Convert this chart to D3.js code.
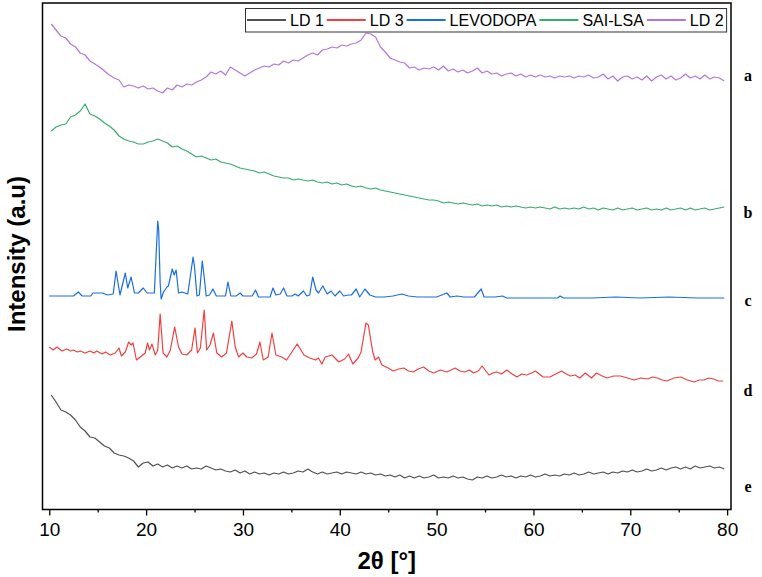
<!DOCTYPE html>
<html><head><meta charset="utf-8">
<script src="https://cdn.jsdelivr.net/npm/d3@7"></script>
<style>body{margin:0;background:#fff} svg{display:block}</style>
</head><body>
<svg id="chart" width="762" height="577"></svg>
<script>
// ---------- data ----------
const seriesNames = ["LD 1", "LD 3", "LEVODOPA", "SAI-LSA", "LD 2"];
const seriesColors = ["#515151", "#F14040", "#1A6FDF", "#37AD6B", "#B177DE"];
const curveLabels = ["a", "b", "c", "d", "e"];          // LD 2, SAI-LSA, LEVODOPA, LD 3, LD 1
const curveLabelLevels = [435, 298, 210, 120, 24];     // intensity (a.u.) at which each letter sits
const xTicks = [10, 20, 30, 40, 50, 60, 70, 80];
const xMinorTicks = [15, 25, 35, 45, 55, 65, 75];

// uniformly sampled patterns: 2θ = 10.2 + 0.5·i
const gridStart = 10.2, gridStep = 0.5;

const ld2 = [
  486,480,474,472,466,463,457,455,449,446,
  443,439,435,432,430,423,425,424,422,424,
  421,422,419,417,422,420,425,423,426,425,
  428,430,433,438,436,439,435,443,440,437,
  434,437,440,442,444,443,446,445,449,447,
  450,449,452,455,457,455,460,461,463,462,
  465,464,466,467,470,477,476,473,463,458,
  452,450,448,447,442,443,440,442,441,443,
  440,444,439,441,438,440,437,439,442,437,
  439,436,437,434,436,437,434,436,433,435,
  433,435,433,434,432,434,433,434,432,434,
  433,435,432,433,436,431,434,429,433,434,
  431,433,430,434,429,433,435,431,434,430,
  432,436,432,434,431,435,431,433,432,429
];

const saiLsa = [
  379,383,385,386,393,395,399,406,396,394,
  391,387,384,380,374,371,369,368,366,366,
  368,369,371,369,367,363,364,361,359,356,
  353,354,352,350,351,348,347,346,344,342,
  341,340,339,337,338,336,334,333,332,332,
  330,331,330,329,330,328,327,328,326,327,
  325,326,324,323,324,322,321,322,320,319,
  318,317,316,315,314,313,312,311,310,310,
  309,307,308,307,306,307,306,305,306,304,
  305,304,305,303,304,303,304,303,302,303,
  302,303,302,301,303,301,302,301,302,301,
  303,301,302,300,302,301,300,302,300,301,
  302,300,301,302,300,301,300,302,300,301,
  302,300,302,300,301,302,300,301,302,303
];

const ld1 = [
  115,108,100,98,95,90,83,79,73,72,
  68,64,62,57,55,54,52,49,43,47,
  48,44,46,43,45,42,44,42,44,41,
  42,41,44,42,40,41,39,38,40,37,
  39,36,38,36,37,35,37,36,38,36,
  37,39,38,41,38,36,38,36,37,38,
  36,38,37,36,38,36,37,35,36,34,
  35,33,35,32,34,32,34,32,33,35,
  32,33,32,34,32,33,31,30,33,32,
  34,32,33,35,33,34,32,34,33,35,
  33,34,36,34,35,34,36,35,37,35,
  36,38,36,37,38,36,38,37,39,38,
  40,38,39,41,39,40,42,40,42,43,
  41,43,41,44,42,43,44,42,43,41
];

// crystalline patterns: [2θ, intensity]
const levodopa = [
  [10.0,214],[12.5,214],[13.0,218],[13.4,214],[14.3,214],[14.5,217],[15.5,217],[16.0,215],[16.6,216],
  [16.9,239],[17.3,215],[17.85,237],[18.1,222],[18.45,233],[18.8,217],[19.2,217],[19.7,222],[20.1,217],
  [20.85,217],[21.2,289],[21.3,280],[21.45,227],[21.55,211],[21.8,218],[22.15,223],[22.3,224],[22.7,241],
  [22.9,235],[23.1,240],[23.35,217],[23.7,218],[24.3,216],[24.85,253],[25.0,243],[25.25,214],[25.5,215],
  [25.8,249],[26.0,233],[26.2,214],[26.55,215],[26.9,221],[27.25,214],[28.2,214],[28.45,228],[28.75,214],
  [29.3,214],[29.7,217],[30.0,214],[30.95,214],[31.3,220],[31.6,213],[32.8,213],[33.1,222],[33.4,215],
  [33.85,216],[34.2,222],[34.55,214],[35.05,214],[35.4,216],[35.7,214],[36.25,219],[36.6,214],[36.9,215],
  [37.2,233],[37.55,220],[37.8,217],[38.25,224],[38.7,216],[39.1,219],[39.5,214],[40.0,219],[40.4,214],
  [40.9,215],[41.2,215],[41.7,221],[42.05,213],[42.6,221],[43.1,215],[43.7,213],[44.6,213],[45.5,214],
  [46.4,216],[47.1,214],[48.0,213],[50.0,213],[51.05,217],[51.4,213],[52.1,214],[52.8,213],[53.9,213],
  [54.6,221],[54.9,213],[56.0,213],[56.8,214],[57.25,212],[62.5,212],[62.75,214],[63.1,212],[66.0,212],
  [68.5,213],[71.0,212],[74.0,213],[77.0,212],[79.7,212]
];

const ld3 = [
  [10.0,163],[10.4,160],[10.8,163],[11.3,159],[11.8,161],[12.2,159],[12.5,160],[12.9,158],[13.2,159],
  [13.7,157],[14.2,159],[14.6,157],[14.9,159],[15.45,156],[15.8,158],[16.3,155],[16.8,157],[17.2,162],
  [17.45,154],[17.85,158],[18.2,168],[18.45,165],[18.65,167],[19.0,150],[19.4,153],[19.9,157],[20.15,167],
  [20.35,160],[20.6,166],[20.95,155],[21.2,160],[21.45,196],[21.75,157],[22.15,153],[22.5,160],[22.95,183],
  [23.35,163],[23.7,156],[24.2,155],[24.7,160],[25.05,182],[25.3,157],[25.6,162],[26.0,200],[26.25,160],
  [26.6,165],[26.95,177],[27.3,157],[27.8,153],[28.3,157],[28.85,189],[29.2,163],[29.55,153],[30.0,157],
  [30.4,153],[30.9,152],[31.4,156],[31.75,168],[32.1,150],[32.6,153],[33.0,177],[33.4,155],[34.0,153],
  [34.5,150],[34.85,155],[35.6,166],[36.3,155],[36.9,152],[37.5,150],[37.8,152],[38.15,146],[38.5,153],
  [39.2,155],[39.9,148],[40.5,151],[40.9,156],[41.35,146],[41.9,152],[42.2,158],[42.7,187],[42.95,185],
  [43.4,158],[43.65,150],[44.0,153],[44.35,145],[45.0,142],[45.5,139],[46.1,141],[46.6,142],[47.1,139],
  [47.6,138],[48.1,141],[48.65,143],[49.2,139],[49.7,137],[50.4,140],[51.05,138],[51.5,140],[51.9,142],
  [52.4,139],[52.9,138],[53.4,140],[53.8,137],[54.3,139],[54.7,144],[55.4,135],[55.8,137],[56.2,138],
  [56.7,136],[57.25,140],[57.8,136],[58.3,133],[58.8,136],[59.3,135],[59.8,137],[60.2,139],[61.0,133],
  [61.7,133],[62.3,136],[62.9,139],[63.4,136],[63.8,134],[64.3,135],[64.8,132],[65.35,137],[66.0,132],
  [66.5,137],[67.1,134],[67.6,132],[68.3,134],[69.0,134],[69.7,132],[70.4,130],[71.1,132],[71.8,131],
  [72.3,133],[72.8,132],[73.3,130],[73.8,129],[74.5,132],[75.2,133],[75.9,130],[76.6,128],[77.1,130],
  [77.6,130],[78.1,132],[78.6,131],[79.1,129],[79.6,129]
];

// ---------- chart ----------
const svg = d3.select("#chart");
const pLeft = 42.5, pRight = 731, pTop = 3, pBottom = 509.5;

const x = d3.scaleLinear().domain([9.3, 80.4]).range([pLeft, pRight]);
const y = d3.scaleLinear().domain([0.5, 507]).range([pBottom, pTop]);

const toPairs = arr => arr.map((v, i) => [gridStart + i * gridStep, v]);
const seriesData = [toPairs(ld1), ld3, levodopa, toPairs(saiLsa), toPairs(ld2)];

const line = d3.line().x(d => x(d[0])).y(d => y(d[1]));

const plot = svg.append("g");
seriesData.forEach((d, i) => {
  plot.append("path")
    .datum(d)
    .attr("d", line)
    .attr("fill", "none")
    .attr("stroke", seriesColors[i])
    .attr("stroke-width", 1.2)
    .attr("stroke-linejoin", "round");
});

// frame
svg.append("rect")
  .attr("x", pLeft).attr("y", pTop)
  .attr("width", pRight - pLeft).attr("height", pBottom - pTop)
  .attr("fill", "none").attr("stroke", "#000").attr("stroke-width", 1.5);

// x axis
const xAxis = d3.axisBottom(x).tickValues(xTicks).tickSize(6).tickSizeOuter(0).tickPadding(7);
const gx = svg.append("g").attr("transform", `translate(0,${pBottom})`).call(xAxis);
gx.select(".domain").remove();
gx.selectAll(".tick line").attr("stroke", "#000").attr("stroke-width", 1.3);
gx.selectAll(".tick text")
  .attr("font-family", "'Liberation Sans Narrow','Arial Narrow','Liberation Sans',Arial,sans-serif")
  .attr("font-size", 19).attr("fill", "#000");

const xMinor = d3.axisBottom(x).tickValues(xMinorTicks).tickSize(3).tickFormat("");
const gm = svg.append("g").attr("transform", `translate(0,${pBottom})`).call(xMinor);
gm.select(".domain").remove();
gm.selectAll(".tick line").attr("stroke", "#000").attr("stroke-width", 1.3);

// axis titles
svg.append("text")
  .attr("x", (pLeft + pRight) / 2).attr("y", 569)
  .attr("text-anchor", "middle")
  .attr("font-family", "'Liberation Sans',Arial,sans-serif")
  .attr("font-weight", "bold").attr("font-size", 24)
  .text("2θ [°]");

svg.append("text")
  .attr("transform", "translate(16,254) rotate(-90)")
  .attr("text-anchor", "middle").attr("dominant-baseline", "central")
  .attr("font-family", "'Liberation Sans',Arial,sans-serif")
  .attr("font-weight", "bold").attr("font-size", 24)
  .text("Intensity (a.u)");

// curve letters
curveLabels.forEach((t, i) => {
  svg.append("text")
    .attr("x", 748).attr("y", y(curveLabelLevels[i]))
    .attr("text-anchor", "middle").attr("dominant-baseline", "central")
    .attr("font-family", "'Liberation Serif','Times New Roman',serif")
    .attr("font-weight", "bold").attr("font-size", 16)
    .text(t);
});

// legend
const lg = svg.append("g");
const lgBox = lg.append("rect")
  .attr("fill", "#fff").attr("stroke", "#333").attr("stroke-width", 1);
let lx = 247;
const ly = 20;
seriesNames.forEach((name, i) => {
  lg.append("line")
    .attr("x1", lx).attr("x2", lx + 39).attr("y1", ly).attr("y2", ly)
    .attr("stroke", seriesColors[i]).attr("stroke-width", 2);
  const t = lg.append("text")
    .attr("x", lx + 43).attr("y", ly + 6)
    .attr("font-family", "'Liberation Sans',Arial,sans-serif")
    .attr("font-size", 16).attr("fill", "#000")
    .text(name);
  lx = lx + 43 + t.node().getComputedTextLength() + 3;
});
lgBox.attr("x", 245.5).attr("y", 8.5).attr("width", lx - 245.5).attr("height", 23.5);
</script>
</body></html>
